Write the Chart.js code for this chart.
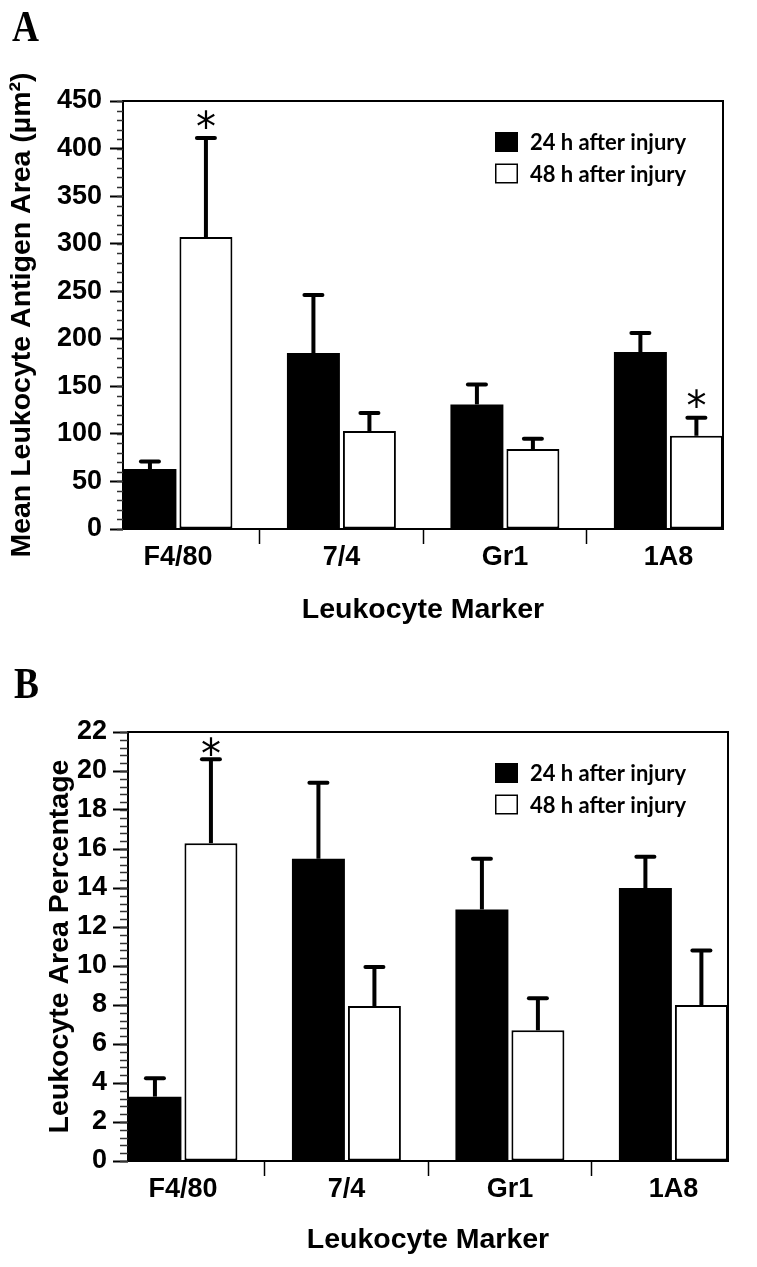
<!DOCTYPE html>
<html><head><meta charset="utf-8">
<script src="https://cdn.jsdelivr.net/npm/chart.js@4.4.1/dist/chart.umd.min.js"></script>
<style>
html,body{margin:0;padding:0;background:#fff;}
body{width:757px;height:1267px;position:relative;overflow:hidden;}
.wrap{position:absolute;left:0;width:757px;}
#wa{top:0;height:640px;}
#wb{top:640px;height:627px;}
.panel{position:absolute;font-family:"Liberation Serif",serif;font-weight:bold;font-size:44px;line-height:44px;transform:scaleX(0.85);transform-origin:left top;color:#000;}
</style></head><body>
<div class="wrap" id="wa"><canvas id="ca"></canvas></div>
<div class="wrap" id="wb"><canvas id="cb"></canvas></div>
<div class="panel" style="left:12px;top:5px">A</div>
<div class="panel" style="left:14px;top:662px">B</div>
<script>
// ---- data ----
const categories = ['F4/80', '7/4', 'Gr1', '1A8'];
const seriesLabels = ['24 h after injury', '48 h after injury'];
const categoryTicks = [0, 0.5, 1, 1.5, 2, 2.5, 3];

const areaA24 = [63, 185, 131, 186];
const areaA48 = [307, 103, 84, 98];
const errA24 = [8, 61, 21, 20];
const errA48 = [104, 19, 11, 19];
const sigA24 = [false, false, false, false];
const sigA48 = [true, false, false, true];
const yTicksA = [0, 50, 100, 150, 200, 250, 300, 350, 400, 450];

const pctB24 = [3.3, 15.5, 12.9, 14.0];
const pctB48 = [16.3, 7.95, 6.7, 8.0];
const errB24 = [0.95, 3.9, 2.6, 1.6];
const errB48 = [4.3, 2.0, 1.65, 2.8];
const sigB24 = [false, false, false, false];
const sigB48 = [true, false, false, false];
const yTicksB = [0, 2, 4, 6, 8, 10, 12, 14, 16, 18, 20, 22];

// ---- plugin: frame, minor ticks, error bars, asterisks, legend ----
const decor = {
  id: 'decor',
  afterDatasetsDraw(chart, args, o) {
    const ctx = chart.ctx, ca = chart.chartArea, ys = chart.scales.y;
    ctx.save();
    chart.data.datasets.forEach((ds, di) => {
      const meta = chart.getDatasetMeta(di);
      meta.data.forEach((bar, i) => {
        const v = ds.data[i].y, e = o.errors[di][i];
        const top = ys.getPixelForValue(v + e);
        const cx = bar.x;
        ctx.strokeStyle = '#000';
        ctx.lineWidth = 4; ctx.lineCap = 'butt';
        ctx.beginPath(); ctx.moveTo(cx, bar.y); ctx.lineTo(cx, top); ctx.stroke();
        ctx.lineWidth = 4; ctx.lineCap = 'round';
        ctx.beginPath(); ctx.moveTo(cx - 9, top); ctx.lineTo(cx + 9, top); ctx.stroke();
        if (o.sig[di][i]) {
          ctx.fillStyle = '#000';
          ctx.font = '40px "DejaVu Sans"';
          ctx.textAlign = 'center'; ctx.textBaseline = 'alphabetic';
          const m = ctx.measureText('*');
          const off = (m.actualBoundingBoxAscent - m.actualBoundingBoxDescent) / 2;
          ctx.fillText('*', cx, top - o.starGap + off);
        }
      });
    });
    // frame
    ctx.strokeStyle = '#000'; ctx.lineWidth = 2; ctx.lineCap = 'butt';
    ctx.strokeRect(ca.left, ca.top, ca.right - ca.left, ca.bottom - ca.top);
    // minor ticks
    ctx.strokeStyle = '#333'; ctx.lineWidth = 1.5;
    const n = Math.round((ys.max - ys.min) / o.minorStep);
    for (let k = 0; k <= n; k++) {
      const v = ys.min + k * o.minorStep;
      const py = Math.round(ys.getPixelForValue(v)) + 0.5;
      ctx.beginPath(); ctx.moveTo(ca.left - o.minorLen, py); ctx.lineTo(ca.left, py); ctx.stroke();
    }
    // legend
    const lx = ca.right - o.legendRight, ly = ca.top + o.legendTop;
    chart.data.datasets.forEach((ds, i) => {
      const by = ly + i * 31.5;
      ctx.fillStyle = ds.backgroundColor;
      ctx.fillRect(lx, by, 23, 20);
      if (ds.borderWidth) {
        ctx.strokeStyle = '#000'; ctx.lineWidth = 1.5;
        ctx.strokeRect(lx + 0.75, by + 0.75, 21.5, 18.5);
      }
      ctx.fillStyle = '#000';
      ctx.font = 'bold 22px Lato';
      ctx.textAlign = 'left'; ctx.textBaseline = 'alphabetic';
      ctx.fillText(ds.label, lx + o.legendTextGap, by + 18);
    });
    ctx.restore();
  }
};

function makeChart(id, s) {
  const tickFont = { family: '"Liberation Sans", Arial, sans-serif', weight: 'bold', size: 27 };
  const titleFont = { family: '"Liberation Sans", Arial, sans-serif', weight: 'bold', size: 28.5, lineHeight: 1.2 };
  return new Chart(document.getElementById(id), {
    type: 'bar',
    data: {
      datasets: [
        { label: seriesLabels[0], data: categories.map((c, i) => ({ x: i, y: s.v24[i] })),
          backgroundColor: '#000000', borderWidth: 0 },
        { label: seriesLabels[1], data: categories.map((c, i) => ({ x: i, y: s.v48[i] })),
          backgroundColor: '#ffffff', borderColor: '#000000', borderWidth: 2, borderSkipped: false }
      ]
    },
    options: {
      responsive: true, maintainAspectRatio: false, animation: false, devicePixelRatio: 1,
      categoryPercentage: 1.37, barPercentage: 0.946,
      layout: { padding: s.padding },
      plugins: {
        legend: { display: false }, title: { display: false }, tooltip: { enabled: false },
        decor: { errors: [s.e24, s.e48], sig: [s.s24, s.s48], starGap: s.starGap,
                 minorStep: s.minorStep, minorLen: s.minorLen,
                 legendRight: s.legendRight, legendTop: 31, legendTextGap: 35 }
      },
      scales: {
        x: {
          type: 'linear', min: -0.336, max: 3.334, offset: false,
          afterBuildTicks: sc => { sc.ticks = categoryTicks.map(v => ({ value: v })); },
          afterFit: sc => { sc.height = 100; },
          grid: { display: true, offset: false, drawOnChartArea: false, drawTicks: true, tickLength: 15, tickWidth: 1.5,
                  tickColor: c => (c.tick && c.tick.value % 1 !== 0) ? '#000' : 'rgba(0,0,0,0)' },
          border: { display: false },
          ticks: { autoSkip: false, maxRotation: 0, padding: -3, color: '#000', font: tickFont,
                   callback: v => (v % 1 === 0 ? categories[v] : '') },
          title: { display: true, text: 'Leukocyte Marker', color: '#000', font: titleFont,
                   padding: { top: 0, bottom: s.xTitlePad } }
        },
        y: {
          type: 'linear', min: s.yTicks[0], max: s.yTicks[s.yTicks.length - 1],
          afterBuildTicks: sc => { sc.ticks = s.yTicks.map(v => ({ value: v })); },
          afterFit: sc => { sc.width = s.yWidth; },
          grid: { display: true, drawOnChartArea: false, drawTicks: true, tickLength: s.majorLen, tickWidth: 2, tickColor: '#000' },
          border: { display: false },
          ticks: { autoSkip: false, padding: s.yTickPad, color: '#000', font: tickFont },
          title: { display: true, text: s.yTitle, color: '#000', font: titleFont,
                   padding: { top: s.yTitlePad, bottom: 0 } }
        }
      }
    },
    plugins: [decor]
  });
}

makeChart('ca', {
  v24: areaA24, v48: areaA48, e24: errA24, e48: errA48, s24: sigA24, s48: sigA48,
  yTicks: yTicksA, yTitle: 'Mean Leukocyte Antigen Area (µm²)',
  padding: { left: 0, top: 101, right: 34, bottom: 11 },
  yWidth: 123, majorLen: 13, yTickPad: 8, minorStep: 10, minorLen: 6,
  yTitlePad: 5, xTitlePad: 2, starGap: 19, legendRight: 228
});
makeChart('cb', {
  v24: pctB24, v48: pctB48, e24: errB24, e48: errB48, s24: sigB24, s48: sigB48,
  yTicks: yTicksB, yTitle: 'Leukocyte Area Percentage',
  padding: { left: 0, top: 92, right: 29, bottom: 6 },
  yWidth: 128, majorLen: 15, yTickPad: 6, minorStep: 0.4, minorLen: 8,
  yTitlePad: 43, xTitlePad: 4, starGap: 13, legendRight: 233
});
</script>
</body></html>
